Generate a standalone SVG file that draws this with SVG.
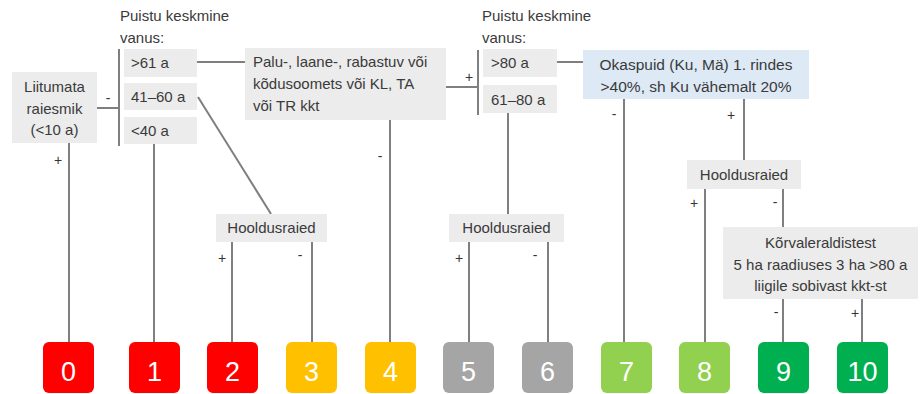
<svg xmlns="http://www.w3.org/2000/svg" width="920" height="394" viewBox="0 0 920 394">
<style>
.t{font-family:"Liberation Sans",Arial,sans-serif;font-size:15px;fill:#3a3a3a}
.c{text-anchor:middle}
.s{font-family:"Liberation Sans",Arial,sans-serif;font-size:14px;fill:#333333;text-anchor:middle}
.lb{fill:#ececec}
.n{font-family:"Liberation Sans",Arial,sans-serif;font-size:27px;fill:#ffffff;text-anchor:middle}
.cn{stroke:#7f7f7f;stroke-width:2;fill:none}
.red{fill:#ff0000}.yel{fill:#ffc000}.gry{fill:#a5a5a5}.lgr{fill:#92d050}.dgr{fill:#00b050}
</style>
<rect width="920" height="394" fill="#ffffff"/>
<g id="connectors" class="cn">
<path d="M69 143V342"/>
<path d="M97 108H119"/>
<path d="M119 49V146"/>
<path d="M197 62H245"/>
<path d="M198 97L271 214"/>
<path d="M154 144V342"/>
<path d="M232 242V342"/>
<path d="M312 242V342"/>
<path d="M390 120V342"/>
<path d="M446 87H478"/>
<path d="M478 50V115"/>
<path d="M557 62H583"/>
<path d="M508 113V214"/>
<path d="M469 242V342"/>
<path d="M548 242V342"/>
<path d="M624 99V342"/>
<path d="M744 99V160"/>
<path d="M705 189V342"/>
<path d="M783 189V227"/>
<path d="M783 299V342"/>
<path d="M862 299V342"/>
</g>
<g id="signs">
<text class="s" x="58" y="165">+</text>
<text class="s" x="108" y="103">-</text>
<text class="s" x="469" y="82">+</text>
<text class="s" x="380" y="161">-</text>
<text class="s" x="614" y="119">-</text>
<text class="s" x="731" y="120">+</text>
<text class="s" x="222" y="263">+</text>
<text class="s" x="300" y="260">-</text>
<text class="s" x="459" y="263">+</text>
<text class="s" x="535" y="260">-</text>
<text class="s" x="694" y="208">+</text>
<text class="s" x="775" y="207">-</text>
<text class="s" x="776" y="317">-</text>
<text class="s" x="855" y="318">+</text>
</g>
<g id="liitumata">
<rect class="lb" x="12" y="72" width="85" height="71"/>
<text class="t c" x="54.5" y="92">Liitumata</text>
<text class="t c" x="54.5" y="114">raiesmik</text>
<text class="t c" x="54.5" y="135">(&lt;10 a)</text>
</g>
<g id="vanus1">
<text class="t" x="120" y="21">Puistu keskmine</text>
<text class="t" x="120" y="43">vanus:</text>
</g>
<g id="age61"><rect class="lb" x="124" y="49" width="73" height="28"/><text class="t" x="131" y="68">&gt;61 a</text></g>
<g id="age41"><rect class="lb" x="124" y="83" width="73" height="27"/><text class="t" x="131" y="102">41–60 a</text></g>
<g id="age40"><rect class="lb" x="124" y="117" width="73" height="27"/><text class="t" x="131" y="136">&lt;40 a</text></g>
<g id="palu">
<rect class="lb" x="245" y="48" width="201" height="72"/>
<text class="t" x="253" y="67">Palu-, laane-, rabastuv või</text>
<text class="t" x="253" y="89">kõdusoomets või KL, TA</text>
<text class="t" x="253" y="111">või TR kkt</text>
</g>
<g id="vanus2">
<text class="t" x="482" y="21">Puistu keskmine</text>
<text class="t" x="482" y="43">vanus:</text>
</g>
<g id="age80"><rect class="lb" x="483" y="49" width="74" height="28"/><text class="t" x="491" y="68">&gt;80 a</text></g>
<g id="age61b"><rect class="lb" x="483" y="85" width="74" height="28"/><text class="t" x="491" y="105">61–80 a</text></g>
<g id="okaspuid">
<rect x="583" y="50" width="226" height="49" fill="#dde9f5"/>
<text class="t c" x="696" y="70" style="font-size:15.5px">Okaspuid (Ku, Mä) 1. rindes</text>
<text class="t c" x="696" y="92" style="font-size:15.5px">&gt;40%, sh Ku vähemalt 20%</text>
</g>
<g id="hool1"><rect class="lb" x="216" y="214" width="111" height="28"/><text class="t c" x="271.5" y="233">Hooldusraied</text></g>
<g id="hool2"><rect class="lb" x="449" y="214" width="115" height="28"/><text class="t c" x="506.5" y="233">Hooldusraied</text></g>
<g id="hool3"><rect class="lb" x="687" y="160" width="114" height="29"/><text class="t c" x="744" y="180">Hooldusraied</text></g>
<g id="korval">
<rect class="lb" x="723" y="227" width="195" height="72"/>
<text class="t c" x="820.5" y="248">Kõrvaleraldistest</text>
<text class="t c" x="820.5" y="270">5 ha raadiuses 3 ha &gt;80 a</text>
<text class="t c" x="820.5" y="291">liigile sobivast kkt-st</text>
</g>
<g id="n0"><rect class="red" x="43" y="342" width="51" height="51" rx="6"/><text class="n" x="68.5" y="381">0</text></g>
<g id="n1"><rect class="red" x="129" y="342" width="51" height="51" rx="6"/><text class="n" x="154.5" y="381">1</text></g>
<g id="n2"><rect class="red" x="207" y="342" width="51" height="51" rx="6"/><text class="n" x="232.5" y="381">2</text></g>
<g id="n3"><rect class="yel" x="286" y="342" width="51" height="51" rx="6"/><text class="n" x="311.5" y="381">3</text></g>
<g id="n4"><rect class="yel" x="365" y="342" width="51" height="51" rx="6"/><text class="n" x="390.5" y="381">4</text></g>
<g id="n5"><rect class="gry" x="443" y="342" width="51" height="51" rx="6"/><text class="n" x="468.5" y="381">5</text></g>
<g id="n6"><rect class="gry" x="522" y="342" width="51" height="51" rx="6"/><text class="n" x="547.5" y="381">6</text></g>
<g id="n7"><rect class="lgr" x="601" y="342" width="51" height="51" rx="6"/><text class="n" x="626.5" y="381">7</text></g>
<g id="n8"><rect class="lgr" x="679" y="342" width="51" height="51" rx="6"/><text class="n" x="704.5" y="381">8</text></g>
<g id="n9"><rect class="dgr" x="758" y="342" width="51" height="51" rx="6"/><text class="n" x="783.5" y="381">9</text></g>
<g id="n10"><rect class="dgr" x="837" y="342" width="51" height="51" rx="6"/><text class="n" x="862.5" y="381">10</text></g>
</svg>
